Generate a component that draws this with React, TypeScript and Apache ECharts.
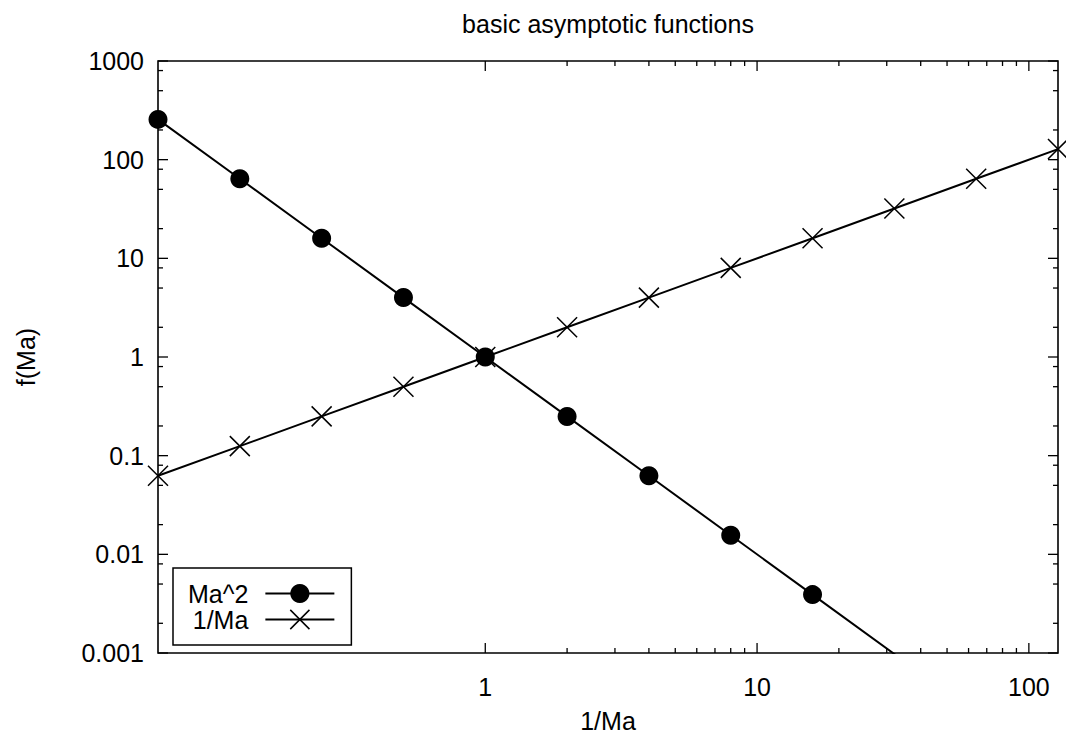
import React, { useEffect, useRef } from 'react';
import * as echarts from 'echarts';

// ---- data ----
const xValues = [0.0625, 0.125, 0.25, 0.5, 1, 2, 4, 8, 16, 32, 64, 128];
const maSquared = [256, 64, 16, 4, 1, 0.25, 0.0625, 0.015625, 0.00390625, 0.0009765625, 0.000244140625, 0.00006103515625];
const invMa = [0.0625, 0.125, 0.25, 0.5, 1, 2, 4, 8, 16, 32, 64, 128];

const seriesNames = ['Ma^2', '1/Ma'];

// ---- axes ----
const xRange = [0.0625, 128];
const yRange = [0.001, 1000];
const xMajorTicks = [1, 10, 100];
const xTickLabels = ['1', '10', '100'];
const xMinorTicks = [2, 3, 4, 5, 6, 7, 8, 9, 20, 30, 40, 50, 60, 70, 80, 90];
const yMajorTicks = [0.001, 0.01, 0.1, 1, 10, 100, 1000];
const yTickLabels = ['0.001', '0.01', '0.1', '1', '10', '100', '1000'];
const yMinorTicks = [0.002, 0.005, 0.008, 0.02, 0.05, 0.08, 0.2, 0.5, 0.8, 2, 5, 8, 20, 50, 80, 200, 500, 800];

const FONT = '"Liberation Sans", Arial, Helvetica, sans-serif';
const FS = 25;

function labelFor(v: number, ticks: number[], labels: string[]): string {
  for (let i = 0; i < ticks.length; i++) {
    if (Math.abs(Math.log10(v) - Math.log10(ticks[i])) < 1e-6) return labels[i];
  }
  return '';
}

const tickStyle = { stroke: '#000', lineWidth: 1.3, fill: 'none' };
const MAJOR_LEN = 10;
const MINOR_LEN = 5;

function renderXTick(params: any, api: any) {
  const cs = params.coordSys;
  const px = api.coord([api.value(0), 1])[0];
  const len = api.value(2) === 1 ? MAJOR_LEN : MINOR_LEN;
  const bottom = cs.y + cs.height;
  return {
    type: 'group',
    children: [
      { type: 'line', shape: { x1: px, y1: bottom, x2: px, y2: bottom - len }, style: tickStyle },
      { type: 'line', shape: { x1: px, y1: cs.y, x2: px, y2: cs.y + len }, style: tickStyle },
    ],
  };
}

function renderYTick(params: any, api: any) {
  const cs = params.coordSys;
  const py = api.coord([1, api.value(1)])[1];
  const len = api.value(2) === 1 ? MAJOR_LEN : MINOR_LEN;
  const right = cs.x + cs.width;
  return {
    type: 'group',
    children: [
      { type: 'line', shape: { x1: cs.x, y1: py, x2: cs.x + len, y2: py }, style: tickStyle },
      { type: 'line', shape: { x1: right, y1: py, x2: right - len, y2: py }, style: tickStyle },
    ],
  };
}

export default function App() {
  const ref = useRef<HTMLDivElement>(null);

  useEffect(() => {
    if (!ref.current) return;
    const chart = echarts.init(ref.current, undefined, { renderer: 'svg' });

    const maData = xValues.map((x, i) =>
      maSquared[i] < yRange[0] ? { value: [x, maSquared[i]], symbol: 'none' } : [x, maSquared[i]]
    );
    const invData = xValues.map((x, i) =>
      invMa[i] < yRange[0] ? { value: [x, invMa[i]], symbol: 'none' } : [x, invMa[i]]
    );

    const xTickData = [
      ...xMajorTicks.map((v) => [v, 1, 1]),
      ...xMinorTicks.map((v) => [v, 1, 0]),
    ];
    const yTickData = [
      ...yMajorTicks.map((v) => [1, v, 1]),
      ...yMinorTicks.map((v) => [1, v, 0]),
    ];

    const option: any = {
      animation: false,
      backgroundColor: '#fff',
      textStyle: { fontFamily: FONT, color: '#000' },
      title: {
        text: 'basic asymptotic functions',
        left: 608,
        top: 11,
        textAlign: 'center',
        padding: 0,
        textStyle: { fontFamily: FONT, fontSize: FS, fontWeight: 'normal', color: '#000' },
      },
      grid: {
        left: 158,
        top: 61,
        right: 8,
        bottom: 89,
        containLabel: false,
        outerBoundsMode: 'none',
        show: true,
        borderColor: '#000',
        borderWidth: 1.6,
        backgroundColor: 'transparent',
      },
      legend: {
        orient: 'vertical',
        left: 173,
        top: 568,
        align: 'right',
        itemWidth: 69,
        itemHeight: 24,
        itemGap: 1,
        padding: [13, 16, 13, 15],
        borderColor: '#000',
        borderWidth: 1.5,
        backgroundColor: '#fff',
        selectedMode: false,
        formatter: '{n|{name}}',
        textStyle: {
          fontFamily: FONT,
          fontSize: FS,
          color: '#000',
          rich: { n: { fontFamily: FONT, fontSize: FS, color: '#000', padding: [0, 12, 0, 0] } },
        },
        data: [
          { name: seriesNames[0] },
          { name: seriesNames[1], itemStyle: { borderWidth: 1.5, borderColor: '#000' } },
        ],
      },
      xAxis: {
        type: 'log',
        logBase: 10,
        min: xRange[0],
        max: xRange[1],
        name: '1/Ma',
        nameLocation: 'middle',
        nameGap: 55,
        nameTextStyle: { fontFamily: FONT, fontSize: FS, color: '#000' },
        axisLine: { show: false },
        axisTick: { show: false },
        minorTick: { show: false },
        splitLine: { show: false },
        axisLabel: {
          margin: 21,
          fontFamily: FONT,
          fontSize: FS,
          color: '#000',
          formatter: (v: number) => labelFor(v, xMajorTicks, xTickLabels),
        },
      },
      yAxis: {
        type: 'log',
        logBase: 10,
        min: yRange[0],
        max: yRange[1],
        splitNumber: 6,
        name: 'f(Ma)',
        nameLocation: 'middle',
        nameGap: 120,
        nameTextStyle: { fontFamily: FONT, fontSize: FS, color: '#000' },
        axisLine: { show: false },
        axisTick: { show: false },
        minorTick: { show: false },
        splitLine: { show: false },
        axisLabel: {
          margin: 14,
          fontFamily: FONT,
          fontSize: FS,
          color: '#000',
          formatter: (v: number) => labelFor(v, yMajorTicks, yTickLabels),
        },
      },
      series: [
        {
          name: 'xticks',
          type: 'custom',
          dimensions: ['x', 'y', 'major'],
          encode: { x: 0, y: 1 },
          data: xTickData,
          renderItem: renderXTick,
          silent: true,
          z: 5,
        },
        {
          name: 'yticks',
          type: 'custom',
          dimensions: ['x', 'y', 'major'],
          encode: { x: 0, y: 1 },
          data: yTickData,
          renderItem: renderYTick,
          silent: true,
          z: 5,
        },
        {
          name: seriesNames[0],
          type: 'line',
          data: maData,
          symbol: 'circle',
          symbolSize: 19,
          clip: true,
          lineStyle: { color: '#000', width: 2 },
          itemStyle: { color: '#000' },
          z: 3,
        },
        {
          name: seriesNames[1],
          type: 'line',
          data: invData,
          symbol: 'path://M0,0L10,10M10,0L0,10',
          symbolSize: 20,
          clip: true,
          lineStyle: { color: '#000', width: 2 },
          itemStyle: { color: '#000', borderColor: '#000', borderWidth: 1.5 },
          z: 4,
        },
      ],
    };

    chart.setOption(option);
    return () => chart.dispose();
  }, []);

  return (
    <div
      ref={ref}
      style={{ position: 'absolute', left: 0, top: 0, width: 1066, height: 742, background: '#fff' }}
    />
  );
}
